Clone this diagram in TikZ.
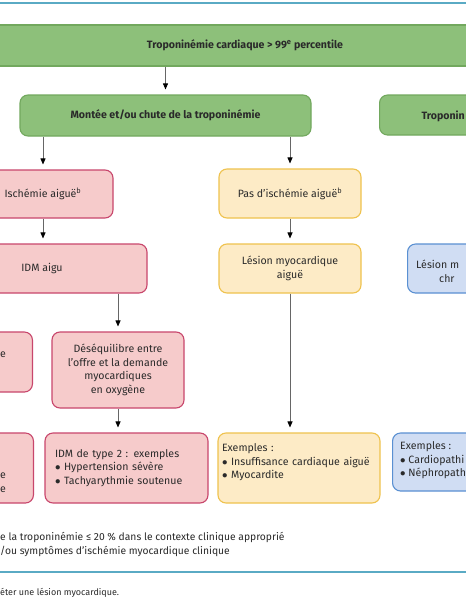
\documentclass[tikz,border=0pt]{standalone}
\usepackage{fontspec}
\setmainfont{Fira Sans}
\usepackage{tikz}
\usetikzlibrary{positioning,arrows.meta}
\usepackage{xcolor}
\definecolor{rulebl}{HTML}{5AAAC4}
\definecolor{grfill}{HTML}{8DC07A}
\definecolor{grline}{HTML}{72A85E}
\definecolor{rdfill}{HTML}{F6CBCB}
\definecolor{rdline}{HTML}{C8466C}
\definecolor{yefill}{HTML}{FDEBC6}
\definecolor{yeline}{HTML}{EFC24E}
\definecolor{blfill}{HTML}{D0DDF3}
\definecolor{blline}{HTML}{5A90D2}
\definecolor{txt}{HTML}{2A2A2A}

\begin{document}
\begin{tikzpicture}[x=1pt, y=-1pt, font=\fontsize{10.6}{13.5}\selectfont, text=txt,
    box/.style={draw, line width=1.1pt, rounded corners=8pt, inner sep=0pt, align=center},
    grbox/.style={box, fill=grfill, draw=grline, font=\fontsize{10.6}{13.5}\selectfont\bfseries},
    rdbox/.style={box, fill=rdfill, draw=rdline},
    yebox/.style={box, fill=yefill, draw=yeline},
    blbox/.style={box, fill=blfill, draw=blline},
    arr/.style={draw=black!60, line width=0.9pt, shorten >=5pt, -{Triangle[length=6pt, width=5pt, fill=black, color=black]}}]
                \useasboundingbox (0,0) rectangle (466,600);
                \clip (0,0) rectangle (466,600);
                \fill[white] (0,0) rectangle (466,600);
                \draw[rulebl, line width=2pt] (0,3) -- (466,3);
                \draw[rulebl, line width=1.5pt] (0,572) -- (466,572);
                % green row
                \node[grbox, rounded corners=0pt, minimum width=520pt, minimum height=41pt](top) at (245,45.5){Troponinémie cardiaque > 99\textsuperscript{e} percentile};
                \node[grbox, minimum width=291pt, minimum height=41pt](montee) at (165.5,115.5){Montée et/ou chute de la troponinémie};
                \node[grbox, minimum width=180pt, minimum height=40pt, anchor=west](tropr) at (379,115){};
                \node[anchor=west, font=\fontsize{10.6}{13.5}\selectfont\bfseries](troprt) at (418,116){Troponin};
                % red column
                \node[rdbox, minimum width=140pt, minimum height=48pt](isch) at (43,194){Ischémie aiguë\textsuperscript{b}};
                \node[rdbox, minimum width=210pt, minimum height=49pt](idm) at (42,268.5){IDM aigu};
                \node[rdbox, minimum width=100pt, minimum height=60pt, anchor=east](idma) at (33,362){};
                \node[anchor=west, inner sep=0pt](idmat) at (0,355){e};
                \node[rdbox, minimum width=132pt, minimum height=76pt](deseq) at (118,370){Déséquilibre entre\\l'offre et la demande\\myocardiques\\en oxygène};
                \node[rdbox, minimum width=100pt, minimum height=70pt, anchor=east](idmb) at (34,468){};
                \node[anchor=west, inner sep=0pt, align=left](idmbt) at (0,482.5){e\\e};
                \node[rdbox, minimum width=163pt, minimum height=70pt, text width=143pt, align=left](idm2) at (126.5,468){IDM de type 2 : exemples\\$\bullet$ Hypertension sévère\\$\bullet$ Tachyarythmie soutenue};
                % yellow column
                \node[yebox, minimum width=142pt, minimum height=49pt](pas) at (290,193.5){Pas d'ischémie aiguë\textsuperscript{b}};
                \node[yebox, minimum width=142pt, minimum height=49pt](lesion) at (290,268.5){Lésion myocardique\\aiguë};
                \node[yebox, minimum width=162pt, minimum height=70pt, text width=154pt, align=left](exj) at (299,468){Exemples :\\$\bullet$ Insuffisance cardiaque aiguë\\$\bullet$ Myocardite\\\mbox{}};
                % blue column
                \node[blbox, minimum width=150pt, minimum height=49pt, anchor=west](lesionc) at (407,268.5){};
                \node[anchor=west, inner sep=0pt, align=left](lesionct) at (416,271.5){Lésion m\\\hspace*{23pt}chr};
                \node[blbox, minimum width=150pt, minimum height=58pt, anchor=west](exb) at (392,462){};
                \node[anchor=west, inner sep=0pt, align=left](exbt) at (400,460.5){Exemples :\\$\bullet$ Cardiopathi\\$\bullet$ Néphropath};
                % arrows
                \path[arr] (top.south -| montee.north) -- (montee.north);
                \path[arr] (montee.south -| isch.north) -- (isch.north);
                \path[arr] (montee.south -| pas.north) -- (pas.north);
                \path[arr] (isch.south) -- (isch.south |- idm.north);
                \path[arr] (idm.south -| deseq.north) -- (deseq.north);
                \path[arr] (deseq.south) -- (deseq.south |- idm2.north);
                \path[arr] (pas.south) -- (lesion.north);
                \path[arr] (lesion.south) -- (lesion.south |- exj.north);
                % notes
                \node[anchor=west, inner sep=0pt, align=left, font=\fontsize{10.3}{14}\selectfont](notes) at (0,544){e la troponinémie ≤ 20 \% dans le contexte clinique approprié\\/ou symptômes d'ischémie myocardique clinique};
                \node[anchor=west, inner sep=0pt, font=\fontsize{9}{11}\selectfont](foot) at (0,593){éter une lésion myocardique.};
\end{tikzpicture}
\end{document}
